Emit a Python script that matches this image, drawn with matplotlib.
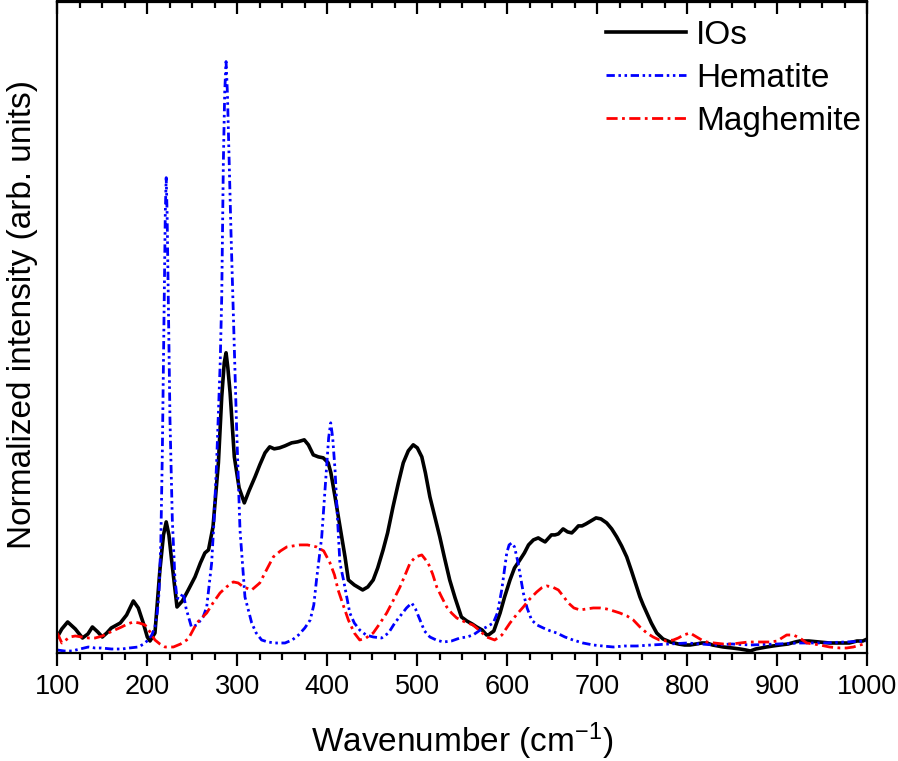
import matplotlib
matplotlib.use("Agg")
import matplotlib.pyplot as plt
from matplotlib.ticker import MultipleLocator

plt.rcParams['font.family'] = ['Liberation Sans', 'DejaVu Sans']
plt.rcParams['mathtext.fontset'] = 'custom'
plt.rcParams['mathtext.rm'] = 'Liberation Sans'
plt.rcParams['mathtext.it'] = 'Liberation Sans:italic'

# IOs (black, solid)
ios_x = [100, 105, 111.5, 120, 128, 134, 139, 145, 150, 155, 160, 170, 177, 184.5, 190, 195.5,
         200, 203, 208.5, 214, 218, 221, 224, 227, 233, 239, 245.5, 253, 259, 264, 268, 273,
         279, 282.7, 285.5, 287.5, 289.5, 292, 296.7, 302, 307.8, 313, 319.7, 325, 330.8, 336,
         341, 347, 353, 360.4, 367, 374.4, 379, 384.4, 390, 395.5, 401, 404, 408.6, 416, 419.7,
         423.4, 430, 439.3, 445, 451, 456, 462, 467, 473, 479, 484.4, 490, 495.5, 500, 505, 509,
         514, 520, 525, 530, 536, 542, 549, 555, 561, 566, 572, 577, 579, 585, 592, 597, 603, 608,
         614, 619, 623.6, 629, 634.4, 638, 642, 646, 649, 653, 656.7, 662, 667, 671.6, 675, 679,
         683, 687.4, 693, 698.6, 704, 710.4, 716, 721.6, 727, 732.7, 738, 743.8, 747.4, 751, 755,
         760, 766, 773, 781, 790, 797, 803, 810, 816, 821.6, 828, 840, 850, 858.6, 865, 870, 876,
         888, 895, 903, 912, 920, 925, 935, 947, 958, 969.7, 980, 988.5, 995, 1000]
ios_y = [16, 24, 31, 24, 15, 19, 26, 21, 16, 20, 25, 30, 38, 52, 45, 30,
         16, 12, 20, 83, 118, 131, 118, 93, 46, 52, 63, 76, 90, 100, 103, 126,
         190, 256, 290, 300, 285, 260, 196, 165, 150, 162, 176, 188, 200, 206,
         204, 205, 207, 210, 211, 213, 208, 198, 196, 195, 190, 180, 156, 116, 96,
         73, 68, 63, 66, 73, 85, 103, 120, 146, 170, 190, 202, 208, 205, 196, 180,
         156, 134, 116, 96, 73, 55, 36, 32, 29, 26, 23, 18, 18, 22, 40, 56, 73, 85,
         93, 100, 108, 113, 115, 113, 111, 115, 118, 118, 119, 124, 121, 120, 123, 127,
         127, 129, 132, 135, 134, 130, 124, 116, 107, 96, 82, 66, 56, 48, 40,
         30, 20, 14, 11, 9, 8, 8, 9, 10, 10, 8, 6, 5, 4, 3, 2, 4,
         6, 7, 8, 9, 11, 12, 12, 11, 10, 10, 10, 12, 12, 14]

# Hematite (blue, dash-dot-dot)
hem_x = [100, 108, 116, 125, 134.5, 142, 149, 160, 171.5, 180, 190, 196, 201, 205, 208.5, 211,
         213, 215, 216.7, 218.5, 220, 221, 222, 223.5, 225.2, 227.8, 230.8, 233, 236, 240, 243,
         249, 255, 262, 266, 271.5, 274, 277, 281, 282.7, 284.5, 286, 287.5, 289, 291, 293,
         295.6, 299.3, 303, 308.5, 316, 321, 327, 334, 342, 353, 361, 368, 375, 381, 385, 388,
         391, 393.8, 396.5, 399, 401.5, 403.8, 406, 408.6, 411, 414, 418, 425, 430, 436, 443,
         451, 460.4, 468, 475, 482, 488, 493.8, 498, 503, 508, 514, 521, 529, 538, 547.4, 555,
         562, 570, 577, 584.4, 589, 593.8, 599.4, 602, 605, 608, 612, 617.8, 622, 627, 633,
         640, 648, 655, 664, 673, 684, 695.5, 706, 717.8, 730, 743.8, 760, 780, 800, 815,
         830, 850, 870, 900, 925, 950, 975, 1000]
hem_y = [3, 2, 2, 4, 6, 5, 5, 4, 4, 5, 6, 9, 13, 18, 26, 40,
         60, 110, 200, 330, 440, 475, 440, 340, 233, 133, 73, 55, 54, 60, 45,
         26, 28, 36, 46, 90, 130, 190, 290, 356, 490, 560, 591, 560, 490, 420,
         340, 223, 123, 56, 30, 20, 13, 11, 10, 10, 13, 18, 25, 33, 48, 73,
         95, 116, 150, 183, 215, 230, 215, 183, 140, 90, 73, 40, 30, 23, 18,
         16, 15, 20, 30, 38, 45, 50, 44, 33, 22, 16, 13, 11, 12, 15, 16,
         18, 23, 26, 30, 40, 63, 100, 108, 110, 106, 90, 60, 45, 33, 28,
         25, 22, 20, 16, 13, 10, 8, 7, 6, 7, 7, 8, 9, 10, 9,
         8, 9, 8, 9, 10, 10, 11, 12]

# Maghemite (red, dash-dot)
mag_x = [100, 105, 114, 120, 127, 135, 142, 150, 156.7, 164, 171.5, 178, 184.5, 191, 197.5,
         203, 208.5, 214, 219.7, 229, 237, 245.5, 255, 266, 273, 280.8, 288, 295.6, 301, 306.7,
         316, 325, 333, 340, 348, 355, 362, 369.7, 378, 388, 396, 403, 408, 412, 418, 423.4,
         430, 436, 443, 451, 458, 466, 473, 480.8, 486, 492, 498, 505, 512, 517, 521.6, 527,
         532.7, 538, 543.8, 553, 562, 569.7, 577, 586, 594, 603, 610, 617.8, 625, 632.7, 638,
         643.8, 650, 656.7, 662, 667.8, 674, 680.8, 688, 695.5, 703, 710.4, 718, 725, 733,
         740, 747.4, 755, 762, 769, 777, 784.5, 790, 796, 803, 810.4, 816, 821.6, 830, 840, 850,
         858.6, 868, 877, 885, 892, 900, 905, 910.4, 917.8, 925, 932.7, 940, 947.4, 958, 969.7,
         977, 984.5, 992, 1000]
mag_y = [20, 10, 16, 17, 16, 15, 15, 17, 20, 23, 26, 29, 31, 30, 28,
         21, 13, 9, 6, 6, 9, 14, 30, 40, 50, 60, 66, 71, 70, 66,
         63, 70, 84, 96, 102, 106, 107, 108, 108, 106, 102, 90, 78, 63, 47, 33,
         20, 13, 15, 20, 29, 40, 52, 66, 77, 90, 96, 98, 90, 79, 66, 56,
         46, 40, 35, 31, 28, 22, 16, 13, 18, 30, 38, 46, 54, 61, 65,
         67, 66, 63, 57, 50, 45, 43, 44, 45, 45, 44, 42, 40, 37,
         33, 26, 20, 16, 13, 12, 13, 15, 18, 20, 16, 13, 11, 10, 9, 9,
         10, 11, 11, 11, 11, 12, 15, 18, 18, 15, 10, 9, 8, 6, 5,
         5, 6, 8, 10]

fig = plt.figure(figsize=(8.98, 7.61), dpi=100)
ax = fig.add_axes([57.3 / 898, 108 / 761, (867.3 - 57.3) / 898, (759.5 - 108) / 761])

ax.plot(ios_x, ios_y, color='black', lw=2.6, label='IOs', solid_joinstyle='round')
ax.plot(hem_x, hem_y, color='#0000ff', lw=2.0, dashes=(3, 1.3, 0.9, 1.3, 0.9, 1.3), label='Hematite')
ax.plot(mag_x, mag_y, color='#ff0000', lw=2.0, dashes=(4, 1.6, 1, 1.6), label='Maghemite')

ax.set_xlim(100, 1000)
ax.set_ylim(0, 651)
ax.set_yticks([])
for s in ax.spines.values():
    s.set_linewidth(1.6)

ax.xaxis.set_major_locator(MultipleLocator(100))
ax.xaxis.set_minor_locator(MultipleLocator(25))
ax.tick_params(axis='x', which='major', direction='out', length=9, width=1.6,
               labelsize=19.5, pad=6, top=False)
ax.tick_params(axis='x', which='minor', direction='out', length=5, width=1.6, top=False)

sec = ax.secondary_xaxis('top')
sec.xaxis.set_major_locator(MultipleLocator(100))
sec.xaxis.set_minor_locator(MultipleLocator(25))
sec.tick_params(axis='x', which='major', direction='in', length=9, width=1.6, labeltop=False)
sec.tick_params(axis='x', which='minor', direction='in', length=5, width=1.6)
sec.spines['top'].set_linewidth(1.6)

ax.set_xlabel('Wavenumber (cm$^{-1}$)', fontsize=24, labelpad=15)
ax.set_ylabel('Normalized intensity (arb. units)', fontsize=24)
ax.yaxis.set_label_coords(-0.024, 0.519)

leg = ax.legend(loc='upper right', frameon=False, fontsize=24, handlelength=2.4,
                handletextpad=0.3, labelspacing=0.36, borderaxespad=0.15,
                bbox_to_anchor=(1.015, 1.0))

fig.savefig('out.png', dpi=100)
